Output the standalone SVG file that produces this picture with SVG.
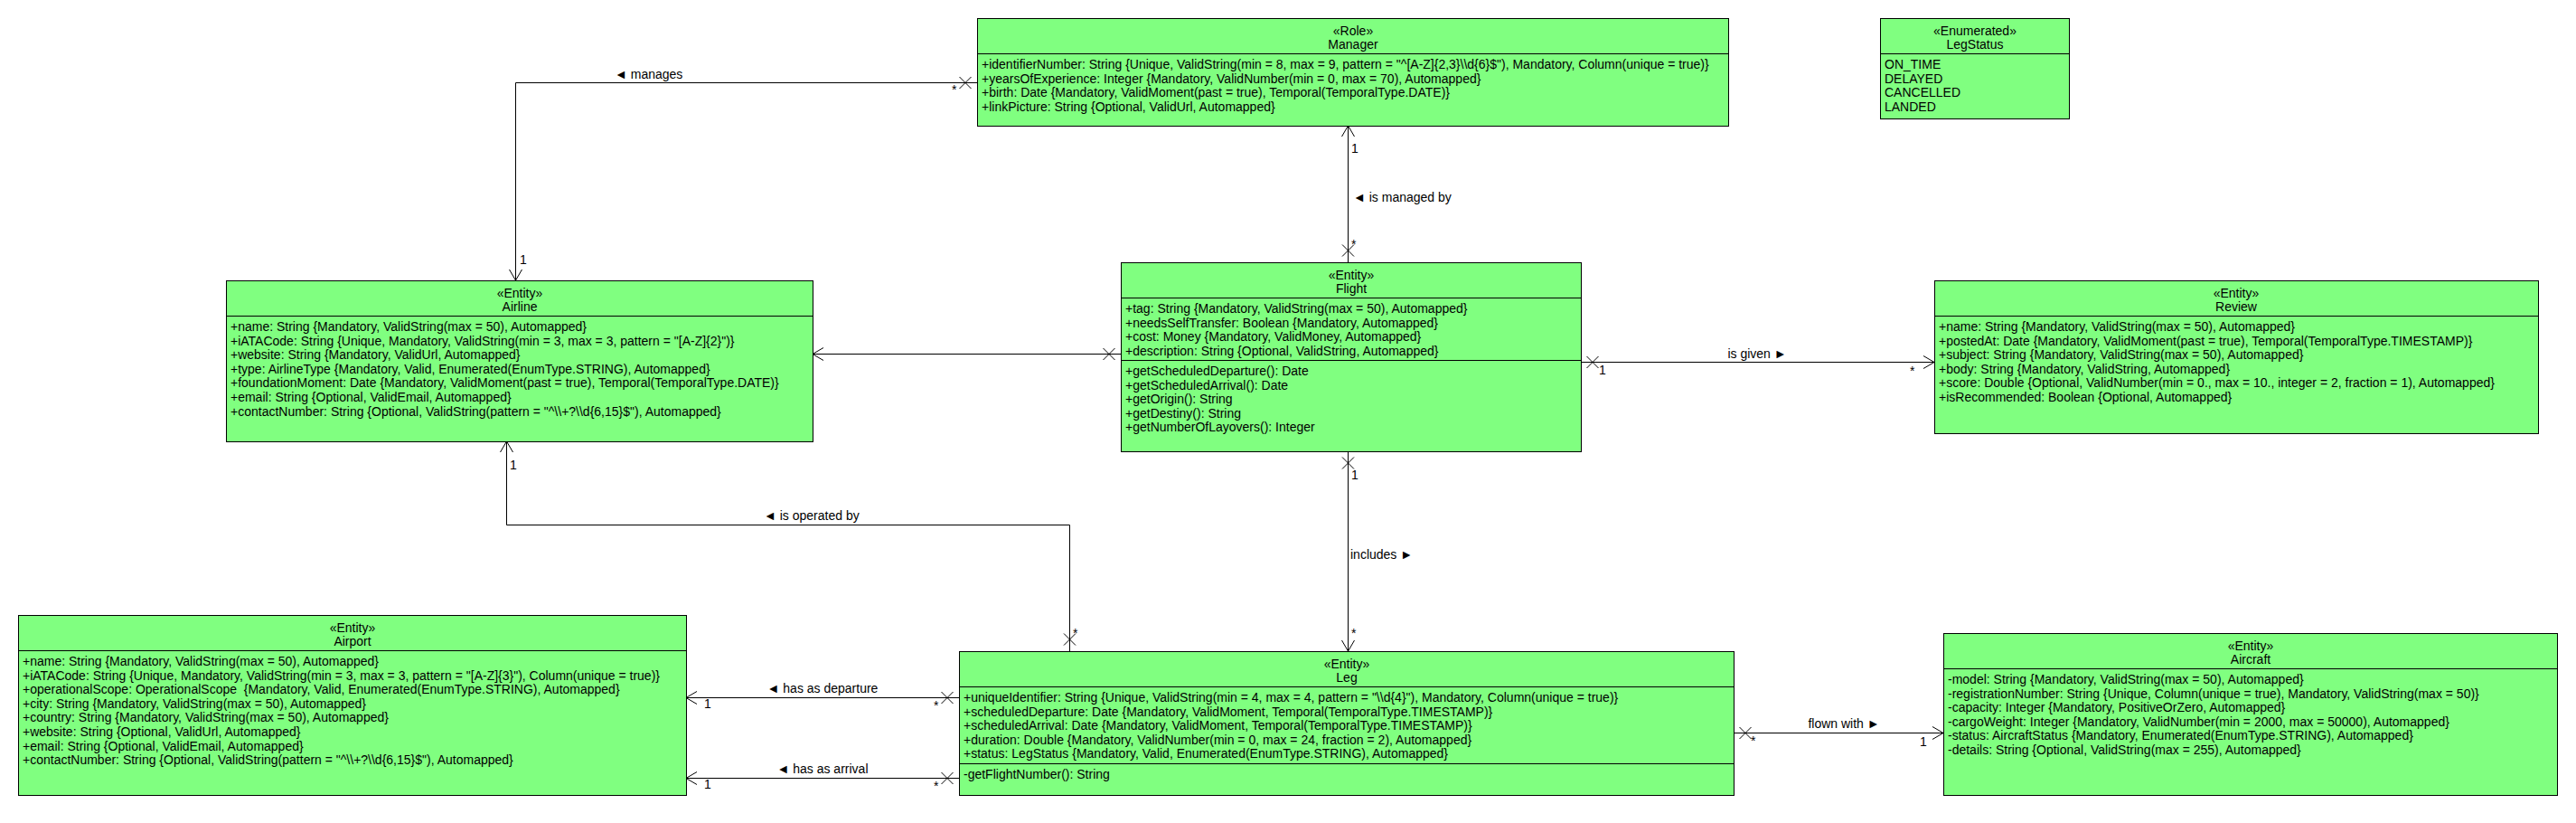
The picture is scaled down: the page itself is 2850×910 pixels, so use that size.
<svg xmlns="http://www.w3.org/2000/svg" width="2850" height="910" viewBox="0 0 2850 910">
<style>
.bg{fill:#ffffff}
.box{fill:#80ff80;stroke:#000;stroke-width:1}
.dv{stroke:#000;stroke-width:1}
.t{font-family:"Liberation Sans",Arial,sans-serif;font-size:14px;fill:#000;white-space:pre}
.c{text-anchor:middle}
.ln{fill:none;stroke:#000;stroke-width:1}
.ca{marker-end:url(#arr);marker-start:url(#xx)}
</style>
<defs>
<marker id="arr" markerUnits="userSpaceOnUse" orient="auto" refX="0" refY="0" markerWidth="1" markerHeight="1" overflow="visible">
<path d="M-12,-7 L0,0 L-12,7" fill="none" stroke="#000" stroke-width="1"/>
</marker>
<marker id="xx" markerUnits="userSpaceOnUse" orient="auto" refX="0" refY="0" markerWidth="1" markerHeight="1" overflow="visible">
<path d="M6.5,-6.5 L19.5,6.5 M6.5,6.5 L19.5,-6.5" fill="none" stroke="#000" stroke-width="1"/>
</marker>
</defs>
<rect class="bg" x="0" y="0" width="2850" height="910"/>

<g id="connectors">
<path id="c-manages" class="ln ca" d="M1081,91.5 L570.5,91.5 L570.5,310"/>
<path id="c-managedby" class="ln ca" d="M1491.5,290 L1491.5,139"/>
<path id="c-airline-flight" class="ln ca" d="M1240,391.5 L899,391.5"/>
<path id="c-isgiven" class="ln ca" d="M1749,400.5 L2140,400.5"/>
<path id="c-includes" class="ln ca" d="M1491.5,499 L1491.5,720"/>
<path id="c-operated" class="ln ca" d="M1183.5,720 L1183.5,580.5 L560.5,580.5 L560.5,488"/>
<path id="c-departure" class="ln ca" d="M1061,771.5 L759,771.5"/>
<path id="c-arrival" class="ln ca" d="M1061,860.5 L759,860.5"/>
<path id="c-flown" class="ln ca" d="M1918,810.5 L2150,810.5"/>

<text class="t" x="680" y="87">◄ manages</text>
<text class="t" x="575" y="292">1</text>
<text class="t" x="1053" y="104">*</text>

<text class="t" x="1495" y="169">1</text>
<text class="t" x="1497" y="223">◄ is managed by</text>
<text class="t" x="1495" y="275">*</text>

<text class="t c" x="1944" y="396">is given ►</text>
<text class="t" x="1769" y="414">1</text>
<text class="t" x="2113" y="415">*</text>

<text class="t" x="1495" y="530">1</text>
<text class="t" x="1494" y="618">includes ►</text>
<text class="t" x="1495" y="705">*</text>

<text class="t" x="564" y="519">1</text>
<text class="t" x="845" y="575">◄ is operated by</text>
<text class="t" x="1187" y="705">*</text>

<text class="t c" x="910" y="766">◄ has as departure</text>
<text class="t" x="779" y="783">1</text>
<text class="t" x="1033" y="785">*</text>

<text class="t c" x="910" y="855">◄ has as arrival</text>
<text class="t" x="779" y="872">1</text>
<text class="t" x="1033" y="874">*</text>

<text class="t c" x="2040" y="805">flown with ►</text>
<text class="t" x="1937" y="824">*</text>
<text class="t" x="2124" y="825">1</text>
</g>

<g id="Manager">
<rect class="box" x="1081.5" y="20.5" width="831" height="119"/>
<line class="dv" x1="1081.5" y1="59.5" x2="1912.5" y2="59.5"/>
<text class="t c" x="1497" y="39">«Role»</text>
<text class="t c" x="1497" y="54">Manager</text>
<text class="t" x="1086" y="76">+identifierNumber: String {Unique, ValidString(min = 8, max = 9, pattern = "^[A-Z]{2,3}\\d{6}$"), Mandatory, Column(unique = true)}</text>
<text class="t" x="1086" y="91.6">+yearsOfExperience: Integer {Mandatory, ValidNumber(min = 0, max = 70), Automapped}</text>
<text class="t" x="1086" y="107.2">+birth: Date {Mandatory, ValidMoment(past = true), Temporal(TemporalType.DATE)}</text>
<text class="t" x="1086" y="122.8">+linkPicture: String {Optional, ValidUrl, Automapped}</text>
</g>

<g id="LegStatus">
<rect class="box" x="2080.5" y="20.5" width="209" height="111"/>
<line class="dv" x1="2080.5" y1="59.5" x2="2289.5" y2="59.5"/>
<text class="t c" x="2185" y="39">«Enumerated»</text>
<text class="t c" x="2185" y="54">LegStatus</text>
<text class="t" x="2085" y="76">ON_TIME</text>
<text class="t" x="2085" y="91.6">DELAYED</text>
<text class="t" x="2085" y="107.2">CANCELLED</text>
<text class="t" x="2085" y="122.8">LANDED</text>
</g>

<g id="Airline">
<rect class="box" x="250.5" y="310.5" width="649" height="178"/>
<line class="dv" x1="250.5" y1="349.5" x2="899.5" y2="349.5"/>
<text class="t c" x="575" y="329">«Entity»</text>
<text class="t c" x="575" y="344">Airline</text>
<text class="t" x="255" y="366">+name: String {Mandatory, ValidString(max = 50), Automapped}</text>
<text class="t" x="255" y="381.6">+iATACode: String {Unique, Mandatory, ValidString(min = 3, max = 3, pattern = "[A-Z]{2}")}</text>
<text class="t" x="255" y="397.2">+website: String {Mandatory, ValidUrl, Automapped}</text>
<text class="t" x="255" y="412.8">+type: AirlineType {Mandatory, Valid, Enumerated(EnumType.STRING), Automapped}</text>
<text class="t" x="255" y="428.4">+foundationMoment: Date {Mandatory, ValidMoment(past = true), Temporal(TemporalType.DATE)}</text>
<text class="t" x="255" y="444">+email: String {Optional, ValidEmail, Automapped}</text>
<text class="t" x="255" y="459.6">+contactNumber: String {Optional, ValidString(pattern = "^\\+?\\d{6,15}$"), Automapped}</text>
</g>

<g id="Flight">
<rect class="box" x="1240.5" y="290.5" width="509" height="209"/>
<line class="dv" x1="1240.5" y1="329.5" x2="1749.5" y2="329.5"/>
<line class="dv" x1="1240.5" y1="398.5" x2="1749.5" y2="398.5"/>
<text class="t c" x="1495" y="309">«Entity»</text>
<text class="t c" x="1495" y="324">Flight</text>
<text class="t" x="1245" y="346">+tag: String {Mandatory, ValidString(max = 50), Automapped}</text>
<text class="t" x="1245" y="361.6">+needsSelfTransfer: Boolean {Mandatory, Automapped}</text>
<text class="t" x="1245" y="377.2">+cost: Money {Mandatory, ValidMoney, Automapped}</text>
<text class="t" x="1245" y="392.8">+description: String {Optional, ValidString, Automapped}</text>
<text class="t" x="1245" y="415">+getScheduledDeparture(): Date</text>
<text class="t" x="1245" y="430.6">+getScheduledArrival(): Date</text>
<text class="t" x="1245" y="446.2">+getOrigin(): String</text>
<text class="t" x="1245" y="461.8">+getDestiny(): String</text>
<text class="t" x="1245" y="477.4">+getNumberOfLayovers(): Integer</text>
</g>

<g id="Review">
<rect class="box" x="2140.5" y="310.5" width="668" height="169"/>
<line class="dv" x1="2140.5" y1="349.5" x2="2808.5" y2="349.5"/>
<text class="t c" x="2474" y="329">«Entity»</text>
<text class="t c" x="2474" y="344">Review</text>
<text class="t" x="2145" y="366">+name: String {Mandatory, ValidString(max = 50), Automapped}</text>
<text class="t" x="2145" y="381.6">+postedAt: Date {Mandatory, ValidMoment(past = true), Temporal(TemporalType.TIMESTAMP)}</text>
<text class="t" x="2145" y="397.2">+subject: String {Mandatory, ValidString(max = 50), Automapped}</text>
<text class="t" x="2145" y="412.8">+body: String {Mandatory, ValidString, Automapped}</text>
<text class="t" x="2145" y="428.4">+score: Double {Optional, ValidNumber(min = 0., max = 10., integer = 2, fraction = 1), Automapped}</text>
<text class="t" x="2145" y="444">+isRecommended: Boolean {Optional, Automapped}</text>
</g>

<g id="Airport">
<rect class="box" x="20.5" y="680.5" width="739" height="199"/>
<line class="dv" x1="20.5" y1="719.5" x2="759.5" y2="719.5"/>
<text class="t c" x="390" y="699">«Entity»</text>
<text class="t c" x="390" y="714">Airport</text>
<text class="t" x="25" y="736">+name: String {Mandatory, ValidString(max = 50), Automapped}</text>
<text class="t" x="25" y="751.6">+iATACode: String {Unique, Mandatory, ValidString(min = 3, max = 3, pattern = "[A-Z]{3}"), Column(unique = true)}</text>
<text class="t" x="25" y="767.2">+operationalScope: OperationalScope  {Mandatory, Valid, Enumerated(EnumType.STRING), Automapped}</text>
<text class="t" x="25" y="782.8">+city: String {Mandatory, ValidString(max = 50), Automapped}</text>
<text class="t" x="25" y="798.4">+country: String {Mandatory, ValidString(max = 50), Automapped}</text>
<text class="t" x="25" y="814">+website: String {Optional, ValidUrl, Automapped}</text>
<text class="t" x="25" y="829.6">+email: String {Optional, ValidEmail, Automapped}</text>
<text class="t" x="25" y="845.2">+contactNumber: String {Optional, ValidString(pattern = "^\\+?\\d{6,15}$"), Automapped}</text>
</g>

<g id="Leg">
<rect class="box" x="1061.5" y="720.5" width="857" height="159"/>
<line class="dv" x1="1061.5" y1="759.5" x2="1918.5" y2="759.5"/>
<line class="dv" x1="1061.5" y1="844.5" x2="1918.5" y2="844.5"/>
<text class="t c" x="1490" y="739">«Entity»</text>
<text class="t c" x="1490" y="754">Leg</text>
<text class="t" x="1066" y="776">+uniqueIdentifier: String {Unique, ValidString(min = 4, max = 4, pattern = "\\d{4}"), Mandatory, Column(unique = true)}</text>
<text class="t" x="1066" y="791.6">+scheduledDeparture: Date {Mandatory, ValidMoment, Temporal(TemporalType.TIMESTAMP)}</text>
<text class="t" x="1066" y="807.2">+scheduledArrival: Date {Mandatory, ValidMoment, Temporal(TemporalType.TIMESTAMP)}</text>
<text class="t" x="1066" y="822.8">+duration: Double {Mandatory, ValidNumber(min = 0, max = 24, fraction = 2), Automapped}</text>
<text class="t" x="1066" y="838.4">+status: LegStatus {Mandatory, Valid, Enumerated(EnumType.STRING), Automapped}</text>
<text class="t" x="1066" y="861">-getFlightNumber(): String</text>
</g>

<g id="Aircraft">
<rect class="box" x="2150.5" y="700.5" width="679" height="179"/>
<line class="dv" x1="2150.5" y1="739.5" x2="2829.5" y2="739.5"/>
<text class="t c" x="2490" y="719">«Entity»</text>
<text class="t c" x="2490" y="734">Aircraft</text>
<text class="t" x="2155" y="756">-model: String {Mandatory, ValidString(max = 50), Automapped}</text>
<text class="t" x="2155" y="771.6">-registrationNumber: String {Unique, Column(unique = true), Mandatory, ValidString(max = 50)}</text>
<text class="t" x="2155" y="787.2">-capacity: Integer {Mandatory, PositiveOrZero, Automapped}</text>
<text class="t" x="2155" y="802.8">-cargoWeight: Integer {Mandatory, ValidNumber(min = 2000, max = 50000), Automapped}</text>
<text class="t" x="2155" y="818.4">-status: AircraftStatus {Mandatory, Enumerated(EnumType.STRING), Automapped}</text>
<text class="t" x="2155" y="834">-details: String {Optional, ValidString(max = 255), Automapped}</text>
</g>
</svg>
